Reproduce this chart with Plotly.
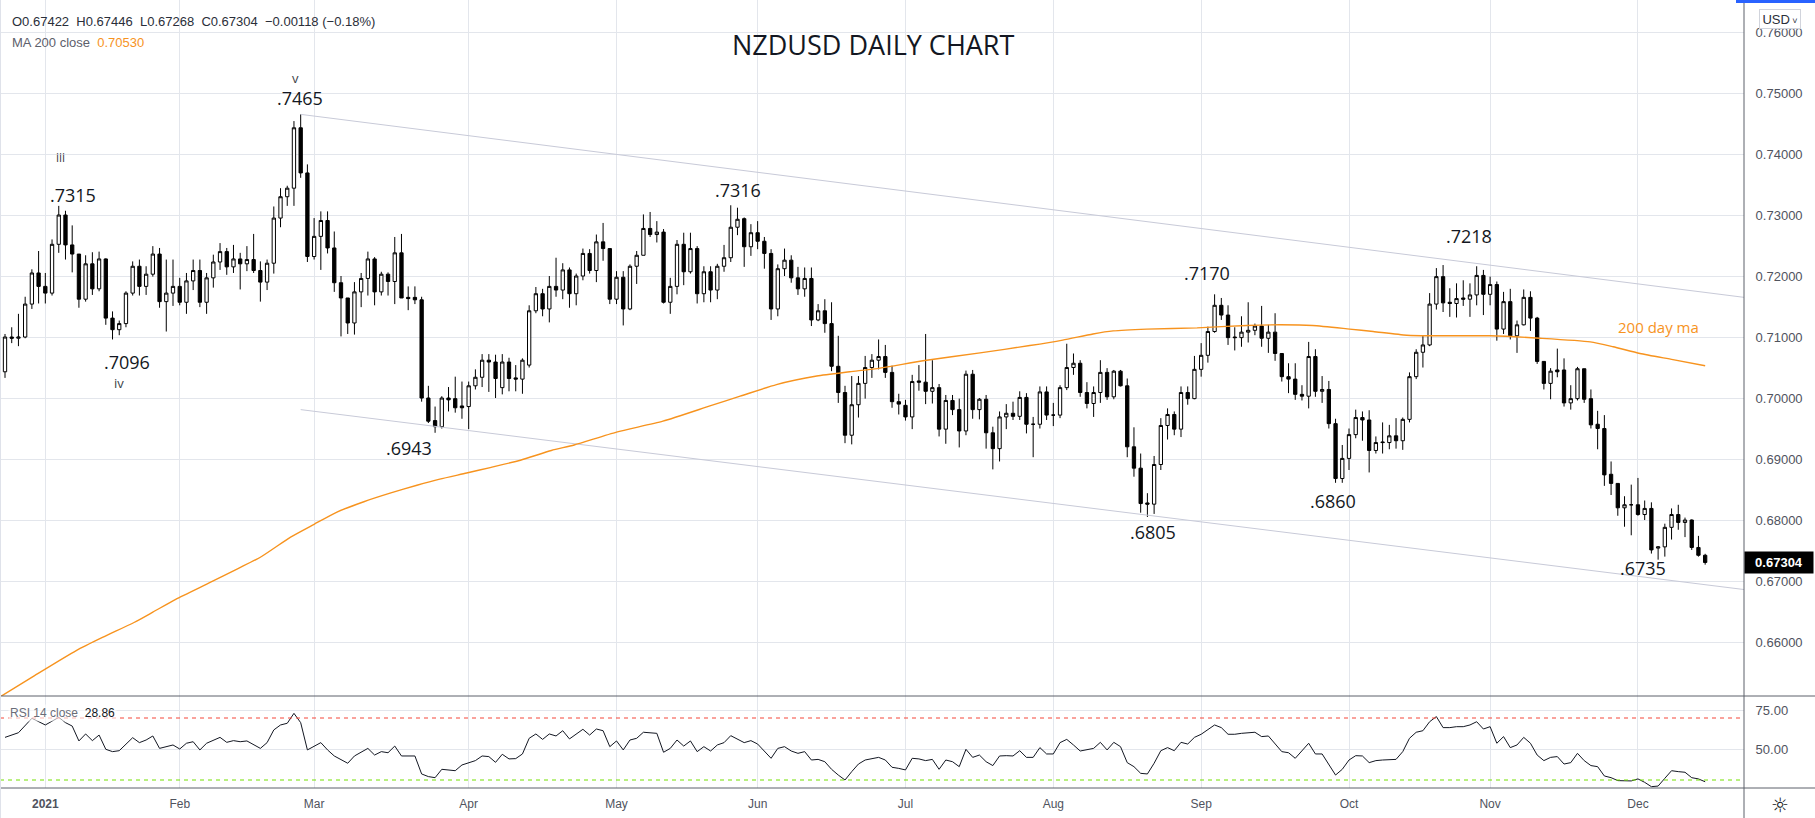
import pandas as pd
import plotly.graph_objects as go

# ---------------- canvas / pane geometry (pixels) ----------------
W, H = 1815, 818
PLOT_RIGHT = 1744      # right edge of the plotting panes
MAIN_BOTTOM = 696      # bottom of price pane
RSI_BOTTOM = 788       # bottom of RSI pane

# ---------------- data ----------------
holidays = ["2020-12-25", "2021-01-01"]
dates = pd.bdate_range("2020-12-23", "2021-12-15")
dates = dates[~dates.isin(pd.to_datetime(holidays))]
bars = list(range(len(dates)))

opens = [
    .7043, .7100, .7098, .7100, .7154, .7205, .7183, .7172, .7252, .7300,
    .7251, .7236, .7162, .7220, .7179, .7228, .7131, .7112, .7122, .7172,
    .7216, .7183, .7203, .7236, .7158, .7172, .7183, .7157, .7192, .7209,
    .7157, .7197, .7223, .7240, .7215, .7228, .7220, .7227, .7209, .7190,
    .7221, .7295, .7330, .7344, .7443, .7369, .7232, .7265, .7291, .7246,
    .7189, .7164, .7123, .7174, .7196, .7228, .7174, .7203, .7191, .7238,
    .7165, .7165, .7161, .7000, .6963, .6953, .7000, .6999, .6987, .6986,
    .7020, .7034, .7062, .7059, .7017, .7059, .7033, .7031, .7054, .7143,
    .7171, .7146, .7183, .7177, .7210, .7171, .7200, .7237, .7209, .7256,
    .7245, .7162, .7198, .7146, .7216, .7234, .7278, .7268, .7272, .7157,
    .7183, .7252, .7207, .7245, .7171, .7207, .7177, .7216, .7230, .7280,
    .7294, .7248, .7271, .7257, .7237, .7146, .7212, .7226, .7197, .7179,
    .7196, .7128, .7143, .7122, .7052, .7009, .6939, .6989, .7024, .7050,
    .7062, .7068, .7042, .6994, .6988, .6969, .7028, .7026, .7011, .7017,
    .6949, .6996, .6981, .6946, .7039, .6981, .6998, .6943, .6917, .6969,
    .6975, .6970, .7001, .6957, .6957, .7010, .6972, .6972, .7017, .7050,
    .7057, .7009, .6991, .7009, .7042, .7002, .7044, .7020, .6920, .6885,
    .6828, .6826, .6891, .6955, .6973, .6949, .7009, .6999, .7047, .7070,
    .7109, .7152, .7136, .7100, .7099, .7108, .7111, .7118, .7098, .7108,
    .7073, .7035, .7031, .7006, .7003, .7068, .7011, .7014, .6958, .6868,
    .6901, .6940, .6968, .6964, .6914, .6928, .6927, .6938, .6930, .6965,
    .7035, .7075, .7087, .7154, .7199, .7157, .7155, .7164, .7162, .7169,
    .7201, .7170, .7186, .7113, .7158, .7102, .7120, .7165, .7131, .7060,
    .7024, .7046, .7046, .6992, .6999, .7048, .6999, .6957, .6950, .6875,
    .6860, .6820, .6825, .6825, .6809, .6819, .6754, .6756, .6788, .6809,
    .6796, .6800, .6755, .67422,
]
highs = [
    .7105, .7116, .7138, .7166, .7211, .7241, .7205, .7260, .7315, .7307,
    .7283, .7236, .7234, .7239, .7240, .7229, .7142, .7127, .7175, .7224,
    .7227, .7216, .7249, .7246, .7227, .7227, .7197, .7205, .7227, .7227,
    .7205, .7235, .7254, .7246, .7251, .7238, .7249, .7269, .7224, .7227,
    .7314, .7344, .7348, .7454, .7465, .7383, .7295, .7306, .7306, .7273,
    .7200, .7164, .7190, .7205, .7240, .7231, .7207, .7206, .7264, .7269,
    .7183, .7183, .7166, .7020, .6986, .7003, .7018, .7035, .7027, .7027,
    .7047, .7072, .7072, .7071, .7072, .7066, .7054, .7065, .7152, .7182,
    .7179, .7200, .7230, .7221, .7214, .7204, .7245, .7244, .7268, .7287,
    .7245, .7208, .7208, .7219, .7241, .7301, .7305, .7290, .7277, .7197,
    .7259, .7271, .7271, .7249, .7216, .7216, .7220, .7251, .7316, .7312,
    .7296, .7285, .7290, .7264, .7244, .7219, .7245, .7234, .7215, .7214,
    .7214, .7154, .7162, .7157, .7102, .7020, .7036, .7036, .7069, .7072,
    .7096, .7087, .7053, .7007, .6997, .7038, .7054, .7105, .7062, .7023,
    .7005, .7005, .6999, .7045, .7046, .7000, .7005, .6953, .6978, .6990,
    .6994, .7011, .7008, .6969, .7019, .7019, .6992, .7021, .7089, .7073,
    .7062, .7026, .7019, .7062, .7049, .7046, .7046, .7032, .6952, .6909,
    .6844, .6905, .6967, .6983, .6978, .7019, .7019, .7069, .7090, .7117,
    .7170, .7164, .7152, .7116, .7134, .7157, .7122, .7151, .7120, .7139,
    .7073, .7057, .7057, .7021, .7092, .7080, .7036, .7028, .6966, .6923,
    .6950, .6981, .6978, .6980, .6937, .6960, .6956, .6967, .6968, .7042,
    .7080, .7103, .7172, .7213, .7218, .7180, .7188, .7193, .7188, .7216,
    .7210, .7199, .7191, .7174, .7179, .7127, .7178, .7175, .7133, .7060,
    .7049, .7081, .7065, .7021, .7051, .7048, .7014, .6979, .6972, .6896,
    .6860, .6839, .6858, .6869, .6832, .6829, .6757, .6794, .6819, .6825,
    .6804, .6801, .6774, .67446,
]
lows = [
    .7033, .7090, .7085, .7098, .7146, .7155, .7155, .7168, .7238, .7227,
    .7206, .7148, .7158, .7169, .7175, .7120, .7096, .7103, .7116, .7168,
    .7168, .7169, .7199, .7148, .7109, .7151, .7152, .7138, .7177, .7149,
    .7138, .7181, .7210, .7202, .7205, .7178, .7208, .7205, .7158, .7177,
    .7204, .7280, .7315, .7315, .7361, .7223, .7227, .7210, .7237, .7174,
    .7101, .7105, .7104, .7149, .7168, .7152, .7168, .7168, .7154, .7164,
    .7144, .7154, .6994, .6959, .6943, .6950, .6978, .6976, .6966, .6949,
    .7014, .7018, .7010, .7000, .7006, .7011, .7011, .7007, .7050, .7139,
    .7134, .7124, .7166, .7162, .7148, .7152, .7193, .7204, .7190, .7225,
    .7154, .7154, .7119, .7144, .7187, .7234, .7264, .7255, .7155, .7138,
    .7170, .7185, .7204, .7155, .7157, .7157, .7162, .7207, .7223, .7267,
    .7215, .7233, .7244, .7212, .7128, .7134, .7200, .7189, .7169, .7166,
    .7118, .7126, .7107, .7044, .6992, .6926, .6924, .6968, .6999, .7033,
    .7047, .7033, .6984, .6973, .6963, .6949, .7012, .6990, .6991, .6937,
    .6925, .6972, .6919, .6939, .6966, .6965, .6917, .6883, .6896, .6949,
    .6964, .6964, .6942, .6903, .6950, .6964, .6954, .6967, .7013, .7038,
    .7002, .6983, .6969, .6992, .6997, .6998, .7019, .6903, .6871, .6812,
    .6805, .6810, .6882, .6932, .6939, .6936, .6989, .6998, .7035, .7058,
    .7107, .7128, .7087, .7078, .7084, .7091, .7103, .7084, .7074, .7061,
    .7027, .7008, .6997, .6996, .6983, .7002, .6992, .6950, .6861, .6861,
    .6882, .6934, .6930, .6878, .6909, .6909, .6916, .6917, .6915, .6960,
    .7031, .7050, .7085, .7145, .7141, .7133, .7132, .7151, .7133, .7152,
    .7136, .7152, .7094, .7105, .7096, .7074, .7119, .7110, .7056, .7014,
    .6998, .7034, .6986, .6981, .6996, .6992, .6950, .6916, .6856, .6841,
    .6807, .6789, .6775, .6807, .6800, .6745, .6735, .6740, .6768, .6784,
    .6772, .6751, .6740, .67268,
]
closes = [
    .7100, .7098, .7100, .7154, .7205, .7183, .7172, .7252, .7300, .7251,
    .7236, .7162, .7220, .7179, .7228, .7131, .7112, .7122, .7172, .7216,
    .7183, .7203, .7236, .7158, .7172, .7183, .7157, .7192, .7209, .7157,
    .7197, .7223, .7240, .7215, .7228, .7220, .7227, .7209, .7190, .7221,
    .7295, .7330, .7344, .7443, .7369, .7232, .7265, .7291, .7246, .7189,
    .7164, .7123, .7174, .7196, .7228, .7174, .7203, .7191, .7238, .7164,
    .7163, .7161, .7000, .6962, .6953, .7000, .6997, .6984, .6984, .7020,
    .7034, .7062, .7059, .7032, .7059, .7032, .7031, .7062, .7143, .7171,
    .7146, .7183, .7177, .7210, .7171, .7200, .7237, .7209, .7256, .7245,
    .7162, .7198, .7146, .7216, .7234, .7278, .7268, .7272, .7157, .7183,
    .7252, .7207, .7245, .7171, .7207, .7177, .7216, .7230, .7280, .7293,
    .7248, .7271, .7257, .7237, .7146, .7212, .7226, .7197, .7179, .7196,
    .7128, .7143, .7122, .7052, .7009, .6939, .6989, .7024, .7050, .7062,
    .7068, .7042, .6994, .6990, .6969, .7027, .7026, .7011, .7017, .6949,
    .6996, .6981, .6946, .7039, .6981, .6998, .6943, .6917, .6969, .6975,
    .6970, .7001, .6957, .6957, .7010, .6972, .6972, .7017, .7050, .7057,
    .7009, .6991, .7009, .7042, .7002, .7044, .7020, .6920, .6885, .6827,
    .6826, .6891, .6955, .6973, .6949, .7009, .6999, .7047, .7070, .7109,
    .7152, .7136, .7099, .7099, .7108, .7111, .7118, .7098, .7108, .7073,
    .7035, .7031, .7006, .7003, .7068, .7011, .7014, .6958, .6868, .6901,
    .6940, .6968, .6964, .6914, .6927, .6927, .6938, .6930, .6965, .7035,
    .7075, .7087, .7154, .7199, .7156, .7155, .7163, .7162, .7169, .7201,
    .7170, .7186, .7113, .7158, .7102, .7120, .7165, .7131, .7060, .7024,
    .7044, .7043, .6992, .6999, .7048, .6998, .6956, .6950, .6874, .6860,
    .6820, .6825, .6825, .6809, .6819, .6751, .6756, .6788, .6809, .6796,
    .6800, .6755, .67422, .67304,
]

# 200-day moving average (bar index, value)
ma_x = [-0.75, 4.4, 10.6, 14.6, 19.2, 22.0, 25.4, 30.6, 34.6, 38.0, 42.5, 46.0,
        49.4, 53.4, 57.3, 61.3, 64.7, 68.7, 72.2, 76.7, 81.3, 84.7, 91.0, 97.9,
        104.9, 109.4, 114.8, 120.8, 125.7, 130.2, 136.6, 145.1, 152.5, 157.4,
        161.9, 164.9, 169.9, 177.4, 184.8, 189.7, 194.6, 200.1, 203.6, 208.6,
        213.5, 221.0, 228.4, 235.9, 239.3, 243.3, 248.2, 253.0]
ma_v = [.6510, .6545, .6586, .6608, .6632, .6649, .6670, .6698, .6720, .6739,
        .6772, .6793, .6813, .6830, .6844, .6857, .6867, .6877, .6886, .6898,
        .6914, .6923, .6944, .6962, .6987, .7003, .7022, .7036, .7043, .7049,
        .7061, .7074, .7086, .7095, .7105, .7110, .7113, .7115, .7119, .7120,
        .7119, .7113, .7109, .7103, .7102, .7102, .7098, .7092, .7084, .7073,
        .7063, .7053]

# RSI(14) vertices
rsi_x = [0, 2, 4, 6, 8, 9, 10, 11, 12, 13, 14, 15, 16, 17, 19, 20, 21, 22, 23, 25,
         26, 27, 28, 29, 30, 32, 33, 34, 35, 36, 38, 39, 40, 41, 42, 43, 44, 45, 47,
         48, 49, 51, 52, 54, 55, 56, 57, 58, 59, 61, 62, 63, 64, 65, 67, 68, 70, 71,
         72, 73, 74, 75, 76, 77, 78, 79, 80, 81, 82, 83, 84, 85, 86, 87, 88, 89, 90,
         91, 92, 93, 94, 95, 97, 98, 99, 100, 101, 102, 103, 104, 105, 106, 107, 108,
         110, 111, 112, 114, 115, 116, 117, 118, 119, 120, 121, 122, 123, 124, 125,
         126, 127, 128, 130, 131, 132, 133, 134, 135, 136, 137, 138, 139, 140, 141,
         142, 143, 144, 145, 146, 147, 148, 149, 150, 151, 152, 153, 154, 155, 156,
         157, 158, 159, 160, 162, 163, 164, 165, 166, 167, 168, 169, 170, 171, 172,
         173, 174, 175, 176, 177, 178, 179, 180, 181, 182, 183, 184, 186, 187, 188,
         189, 190, 191, 192, 194, 195, 196, 198, 199, 200, 201, 202, 203, 204, 205,
         206, 207, 208, 209, 210, 211, 212, 213, 214, 215, 216, 217, 218, 219, 220,
         221, 222, 223, 224, 225, 226, 227, 228, 229, 230, 231, 232, 233, 234, 235,
         236, 237, 238, 239, 240, 241, 242, 243, 244, 245, 246, 247, 248, 249, 250,
         251, 252, 253]
rsi_v = [57.5, 60.5, 69.8, 65.5, 70.4, 67.0, 64.8, 55.2, 59.7, 55.4, 59.0, 49.8,
         48.3, 48.9, 57.3, 54.1, 55.8, 58.4, 50.4, 52.6, 50.0, 53.7, 54.7, 49.4,
         53.7, 57.5, 54.3, 55.4, 54.7, 55.2, 50.4, 54.1, 62.3, 65.5, 66.6, 73.0,
         67.0, 49.4, 54.1, 49.4, 45.5, 40.8, 45.5, 50.4, 46.1, 48.3, 47.6, 51.9,
         45.5, 45.5, 33.9, 32.2, 31.5, 36.9, 36.0, 39.7, 42.5, 45.5, 45.1, 41.4,
         46.6, 43.6, 43.8, 46.8, 56.9, 59.7, 56.2, 59.7, 58.4, 61.8, 56.5, 59.7,
         62.7, 59.0, 62.9, 61.8, 51.5, 55.2, 49.4, 55.8, 56.9, 60.8, 60.1, 47.9,
         50.4, 55.8, 51.9, 55.2, 48.3, 51.5, 48.7, 52.6, 54.1, 58.6, 54.1, 55.4,
         53.2, 44.0, 50.4, 51.5, 48.7, 47.2, 48.3, 42.9, 43.3, 41.8, 36.9, 33.2,
         30.0, 35.4, 40.3, 42.9, 44.6, 42.9, 38.2, 37.5, 36.5, 44.0, 43.6, 42.5,
         43.3, 36.9, 42.9, 41.8, 38.6, 49.8, 44.6, 46.1, 41.8, 39.3, 45.5, 45.7,
         45.5, 48.9, 44.6, 44.6, 50.9, 46.8, 46.8, 54.1, 56.2, 52.6, 48.7, 50.4,
         54.3, 49.4, 54.3, 51.5, 41.2, 38.6, 34.3, 33.9, 40.8, 48.9, 50.9, 48.9,
         54.3, 53.2, 57.5, 59.5, 62.7, 65.5, 63.8, 59.5, 59.5, 60.1, 60.8, 58.0,
         58.4, 53.7, 48.3, 47.6, 44.0, 53.7, 46.8, 46.8, 33.2, 36.9, 42.9, 45.7,
         45.5, 41.2, 42.5, 42.9, 43.3, 43.3, 48.3, 56.9, 60.8, 61.8, 67.6, 70.9,
         63.8, 63.8, 64.4, 64.4, 65.5, 67.6, 62.9, 64.4, 53.7, 58.0, 50.9, 52.6,
         57.5, 53.7, 46.1, 42.5, 44.6, 45.1, 40.3, 41.2, 47.2, 42.5, 39.3, 38.6,
         32.6, 31.5, 29.6, 29.6, 29.4, 30.7, 28.5, 25.7, 26.1, 31.1, 36.0, 35.4,
         35.0, 31.5, 30.7, 28.86]

# drawn trend channel: (bar index, price) endpoints
upper_line_x, upper_line_y = [44, 258.8], [.7465, .7165]
lower_line_x, lower_line_y = [44, 258.8], [.6981, .6686]

# text labels drawn on the chart (bar index, price)
label_text = ["v", ".7465", "iii", ".7315", ".7096", "iv", ".6943", ".7316",
              ".7170", ".6805", ".6860", ".7218", ".6735"]
label_x = [43.2, 43.9, 8.2, 10.1, 18.2, 17.0, 60.1, 109.1, 178.9, 170.8, 197.6, 217.9, 243.8]
label_y = [.7525, .7492, .7395, .7333, .7059, .7025, .6918, .7341, .7205, .6780, .6831, .7266, .6721]
label_size = [13, 18, 12, 18, 18, 13, 18, 18, 18, 18, 18, 18, 18]
ma_label = ("200 day ma", 246.1, .7116)

price_ticks = [0.66, 0.67, 0.68, 0.69, 0.70, 0.71, 0.72, 0.73, 0.74, 0.75, 0.76]
rsi_ticks = [50, 75]
rsi_levels = [70, 30]
rsi_level_colors = ["#f5473b", "#72e000"]

tick_idx = [i for i in bars if i > 0 and dates[i].month != dates[i - 1].month]
tick_text = ["<b>2021</b>" if dates[i].month == 1 else dates[i].strftime("%b") for i in tick_idx]

# ---------------- geometry helpers ----------------
px_x = lambda px: px / W
px_y = lambda py: 1 - py / H
x_dom = [0, px_x(PLOT_RIGHT)]
y_main = [px_y(MAIN_BOTTOM), 1]
y_rsi = [px_y(RSI_BOTTOM), px_y(MAIN_BOTTOM)]
x_range = [-0.744, 258.78]
y_range = [0.65115, 0.76525]
rsi_range = [24.84, 84.19]

AXIS_FONT = dict(family="Liberation Sans, Arial, sans-serif", size=13, color="#50535e")
LABEL_FONT = "Open Sans, Liberation Sans, sans-serif"
GRID = "#e3e6ec"
SEP = "#5d606b"
ORANGE = "#f7931e"

fig = go.Figure()

fig.add_trace(go.Scatter(x=upper_line_x, y=upper_line_y, mode="lines",
                         line=dict(color="#c8cad8", width=1), hoverinfo="skip", showlegend=False))
fig.add_trace(go.Scatter(x=lower_line_x, y=lower_line_y, mode="lines",
                         line=dict(color="#c8cad8", width=1), hoverinfo="skip", showlegend=False))
fig.add_trace(go.Scatter(x=ma_x, y=ma_v, mode="lines",
                         line=dict(color=ORANGE, width=1.4, shape="spline", smoothing=0.6),
                         hoverinfo="skip", showlegend=False))
fig.add_trace(go.Candlestick(
    x=bars, open=opens, high=highs, low=lows, close=closes,
    increasing=dict(line=dict(color="#000000", width=1), fillcolor="#ffffff"),
    decreasing=dict(line=dict(color="#000000", width=1), fillcolor="#000000"),
    whiskerwidth=0, showlegend=False, hoverinfo="skip", xaxis="x", yaxis="y"))
fig.add_trace(go.Scatter(x=rsi_x, y=rsi_v, mode="lines", xaxis="x2", yaxis="y2",
                         line=dict(color="#131722", width=1), hoverinfo="skip", showlegend=False))

fig.update_layout(
    width=W, height=H, margin=dict(l=0, r=0, t=0, b=0),
    paper_bgcolor="white", plot_bgcolor="white", showlegend=False,
    boxgap=0.3,
    xaxis=dict(domain=x_dom, range=x_range, anchor="y", tickvals=tick_idx,
               showticklabels=False, showgrid=True, gridcolor=GRID, gridwidth=1,
               zeroline=False, showline=False, rangeslider=dict(visible=False),
               fixedrange=True),
    yaxis=dict(domain=y_main, range=y_range, anchor="x", side="right",
               tickvals=price_ticks, tickformat=".5f", showgrid=True, gridcolor=GRID,
               zeroline=False, showline=False, ticks="outside", ticklen=8,
               tickcolor="rgba(0,0,0,0)", tickfont=AXIS_FONT, fixedrange=True),
    xaxis2=dict(domain=x_dom, range=x_range, anchor="y2", matches="x",
                tickvals=tick_idx, ticktext=tick_text, showgrid=True, gridcolor=GRID,
                zeroline=False, showline=False, ticks="outside", ticklen=5,
                tickcolor="rgba(0,0,0,0)", tickfont=dict(AXIS_FONT, size=12),
                fixedrange=True),
    yaxis2=dict(domain=y_rsi, range=rsi_range, anchor="x2", side="right",
                tickvals=rsi_ticks, tickformat=".2f", showgrid=True, gridcolor=GRID,
                zeroline=False, showline=False, ticks="outside", ticklen=8,
                tickcolor="rgba(0,0,0,0)", tickfont=AXIS_FONT, fixedrange=True),
)

shapes = []
# RSI level lines
for lvl, col in zip(rsi_levels, rsi_level_colors):
    shapes.append(dict(type="line", xref="x2 domain", yref="y2", x0=0, x1=1, y0=lvl, y1=lvl,
                       line=dict(color=col, width=1, dash="4px,4px")))
# pane separators
shapes += [
    dict(type="line", xref="paper", yref="paper", x0=0, x1=1, y0=y_main[0], y1=y_main[0],
         line=dict(color=SEP, width=1)),
    dict(type="line", xref="paper", yref="paper", x0=0, x1=1, y0=y_rsi[0], y1=y_rsi[0],
         line=dict(color=SEP, width=1)),
    dict(type="line", xref="paper", yref="paper", x0=x_dom[1], x1=x_dom[1], y0=0, y1=1,
         line=dict(color=SEP, width=1)),
    dict(type="line", xref="paper", yref="paper", x0=px_x(0.5), x1=px_x(0.5), y0=0, y1=1,
         line=dict(color="#dfe2ea", width=1)),
    dict(type="rect", xref="paper", yref="paper", x0=px_x(1736), x1=1, y0=px_y(3), y1=1,
         line=dict(width=0), fillcolor="#2962ff"),
]
fig.update_layout(shapes=shapes)

ann = []
for t, x, y, s in zip(label_text, label_x, label_y, label_size):
    ann.append(dict(x=x, y=y, xref="x", yref="y", text=t, showarrow=False,
                    xanchor="center", yanchor="middle",
                    font=dict(family=LABEL_FONT, size=s,
                              color="#131722" if s > 14 else "#3c3f47")))
ann.append(dict(x=ma_label[1], y=ma_label[2], xref="x", yref="y", text=ma_label[0],
                showarrow=False, xanchor="center", yanchor="middle",
                font=dict(family=LABEL_FONT, size=15, color=ORANGE)))
# title
ann.append(dict(x=px_x(873), y=px_y(44), xref="paper", yref="paper",
                xanchor="center", yanchor="middle",
                text="NZDUSD DAILY CHART", showarrow=False,
                font=dict(family=LABEL_FONT, size=27, color="#131722")))
# header (OHLC legend)
chg = closes[-1] - closes[-2]
pct = chg / closes[-2] * 100
hdr = (f"O{opens[-1]:.5f}&#160;&#160;H{highs[-1]:.5f}&#160;&#160;L{lows[-1]:.5f}&#160;&#160;"
       f"C{closes[-1]:.5f}&#160;&#160;{chg:+.5f} ({pct:+.2f}%)").replace("-", "\u2212")
ann.append(dict(x=px_x(10), y=px_y(22), xref="paper", yref="paper", xanchor="left",
                yanchor="middle", text=hdr, showarrow=False,
                font=dict(family="Liberation Sans, Arial, sans-serif", size=13, color="#2a2e39")))
ann.append(dict(x=px_x(10), y=px_y(43), xref="paper", yref="paper", xanchor="left",
                yanchor="middle",
                text=f"MA 200 close&#160;&#160;<span style='color:{ORANGE}'>{ma_v[-1]:.5f}</span>",
                showarrow=False,
                font=dict(family="Liberation Sans, Arial, sans-serif", size=13, color="#5d606b")))
ann.append(dict(x=px_x(8), y=px_y(713), xref="paper", yref="paper", xanchor="left",
                yanchor="middle",
                text=f"RSI 14 close&#160;&#160;<span style='color:#131722'>{rsi_v[-1]:.2f}</span>",
                showarrow=False, bgcolor="rgba(255,255,255,0.6)",
                font=dict(family="Liberation Sans, Arial, sans-serif", size=12, color="#6a6d78")))
# last price tag
ann.append(dict(x=x_dom[1], y=closes[-1], xref="paper", yref="y", xanchor="left",
                yanchor="middle", text=f"<b>{closes[-1]:.5f}</b>", showarrow=False,
                bgcolor="#000000", width=66, height=19, align="center",
                font=dict(family="Liberation Sans, Arial, sans-serif", size=13, color="#ffffff")))
# currency button
ann.append(dict(x=px_x(1779.5), y=px_y(19), xref="paper", yref="paper",
                xanchor="center", yanchor="middle",
                text="USD<span style='font-size:9px'> \u02c5</span>", showarrow=False,
                bgcolor="#ffffff", bordercolor="#d1d4dc", borderwidth=1, width=38, height=16,
                font=dict(family="Liberation Sans, Arial, sans-serif", size=13, color="#2a2e39")))
# settings icon
ann.append(dict(x=px_x(1780), y=px_y(805), xref="paper", yref="paper", text="\u263c",
                xanchor="center", yanchor="middle",
                showarrow=False, font=dict(family="DejaVu Sans", size=20, color="#131722")))
fig.update_layout(annotations=ann)

fig.write_html("out.html")
